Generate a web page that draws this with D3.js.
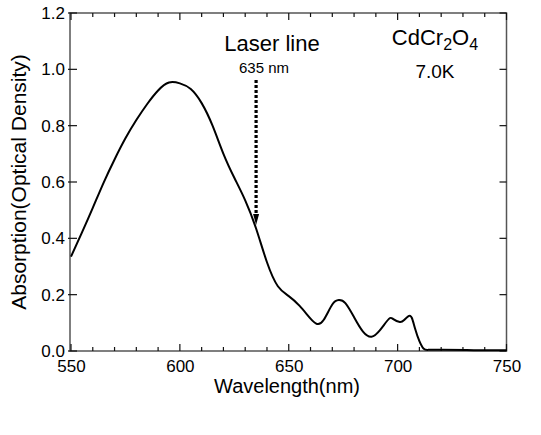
<!DOCTYPE html>
<html>
<head>
<meta charset="utf-8">
<script src="https://cdn.jsdelivr.net/npm/d3@7.9.0/dist/d3.min.js"></script>
<style>
  html, body { margin: 0; padding: 0; background: #fff; }
  svg { display: block; font-family: "Liberation Sans", Arial, Helvetica, sans-serif; }
</style>
</head>
<body>
<svg id="chart" width="541" height="435"></svg>
<script>
// wavelength (nm) and absorption
const wavelength = [550, 555, 560, 565, 570, 575, 580, 585, 590, 595, 600, 605, 610, 615, 620, 625, 630, 635, 640, 645, 650, 655, 660, 663, 666, 670, 673, 676, 680, 684, 688, 692, 696, 698, 701, 703, 705, 706.5, 708, 710, 712, 714, 720, 735, 750];
const absorption = [0.335, 0.42, 0.508, 0.598, 0.68, 0.755, 0.82, 0.877, 0.925, 0.953, 0.95, 0.93, 0.88, 0.80, 0.70, 0.615, 0.535, 0.435, 0.315, 0.23, 0.195, 0.16, 0.115, 0.096, 0.11, 0.165, 0.181, 0.17, 0.12, 0.07, 0.051, 0.075, 0.114, 0.113, 0.103, 0.11, 0.124, 0.118, 0.08, 0.035, 0.008, 0.004, 0.004, 0.003, 0.003];

const xTicks = [550, 600, 650, 700, 750];
const yTicks = [0.0, 0.2, 0.4, 0.6, 0.8, 1.0, 1.2];
const laserNm = 635;

const svg = d3.select('#chart');
const plotLeft = 70, plotRight = 506.5, plotTop = 13, plotBottom = 351;

const x = d3.scaleLinear().domain([550, 750]).range([plotLeft + 1, plotRight]);
const y = d3.scaleLinear().domain([0, 1.2]).range([plotBottom, plotTop]);

// frame
svg.append('rect')
  .attr('x', plotLeft).attr('y', plotTop)
  .attr('width', plotRight - plotLeft).attr('height', plotBottom - plotTop)
  .attr('fill', 'none').attr('stroke', '#555').attr('stroke-width', 1.5);

// tick labels
svg.append('g').attr('class', 'ax').attr('transform', `translate(0,${plotBottom})`)
  .call(d3.axisBottom(x).tickValues(xTicks).tickSize(0).tickPadding(9).tickFormat(d3.format('d')));
svg.append('g').attr('class', 'ax').attr('transform', `translate(${plotLeft},0)`)
  .call(d3.axisLeft(y).tickValues(yTicks).tickSize(0).tickPadding(5).tickFormat(d3.format('.1f')));
svg.selectAll('.ax .domain').remove();
svg.selectAll('.ax .tick text').attr('fill', '#000').style('font-size', '17px')
  .style('font-family', '"Liberation Sans", Arial, sans-serif');

// tick marks, all pointing inward
const xMinor = d3.range(550, 751, 10).filter(v => !xTicks.includes(v));
const ticks = svg.append('g').attr('stroke', '#111').attr('stroke-width', 1.2);
[[xTicks, 7], [xMinor, 4]].forEach(([vals, len]) => {
  vals.forEach(v => {
    ticks.append('line').attr('x1', x(v)).attr('x2', x(v)).attr('y1', plotBottom).attr('y2', plotBottom - len);
    ticks.append('line').attr('x1', x(v)).attr('x2', x(v)).attr('y1', plotTop).attr('y2', plotTop + len);
  });
});
yTicks.forEach(v => {
  ticks.append('line').attr('x1', plotLeft - 2).attr('x2', plotLeft + 7).attr('y1', y(v)).attr('y2', y(v));
  ticks.append('line').attr('x1', plotRight).attr('x2', plotRight - 7).attr('y1', y(v)).attr('y2', y(v));
});

// spectrum
const points = wavelength.map((w, i) => [w, absorption[i]]);
svg.append('path')
  .datum(points)
  .attr('fill', 'none')
  .attr('stroke', '#000')
  .attr('stroke-width', 2)
  .attr('d', d3.line().x(d => x(d[0])).y(d => y(d[1])).curve(d3.curveNatural));

// laser line arrow
const ax = x(laserNm);
svg.append('line')
  .attr('x1', ax).attr('x2', ax)
  .attr('y1', 80).attr('y2', 215)
  .attr('stroke', '#000').attr('stroke-width', 3.2)
  .attr('stroke-dasharray', '3,2');
svg.append('path')
  .attr('d', `M${ax - 3},214 L${ax + 3},214 L${ax},225 Z`)
  .attr('fill', '#000');

svg.append('text').attr('x', 272).attr('y', 51).attr('text-anchor', 'middle')
  .style('font-size', '22px').text('Laser line');
svg.append('text').attr('x', 264).attr('y', 73).attr('text-anchor', 'middle')
  .style('font-size', '15px').text('635 nm');

// sample label
const comp = svg.append('text').attr('x', 435).attr('y', 45).attr('text-anchor', 'middle')
  .style('font-size', '22px');
comp.append('tspan').text('CdCr');
comp.append('tspan').attr('dy', 5).style('font-size', '16px').text('2');
comp.append('tspan').attr('dy', -5).text('O');
comp.append('tspan').attr('dy', 5).style('font-size', '16px').text('4');
svg.append('text').attr('x', 435).attr('y', 78).attr('text-anchor', 'middle')
  .style('font-size', '19px').text('7.0K');

// axis titles
svg.append('text').attr('x', 287).attr('y', 393).attr('text-anchor', 'middle')
  .style('font-size', '20px').text('Wavelength(nm)');
svg.append('text').attr('transform', 'translate(26,182) rotate(-90)').attr('text-anchor', 'middle')
  .style('font-size', '21px').text('Absorption(Optical Density)');
</script>
</body>
</html>
